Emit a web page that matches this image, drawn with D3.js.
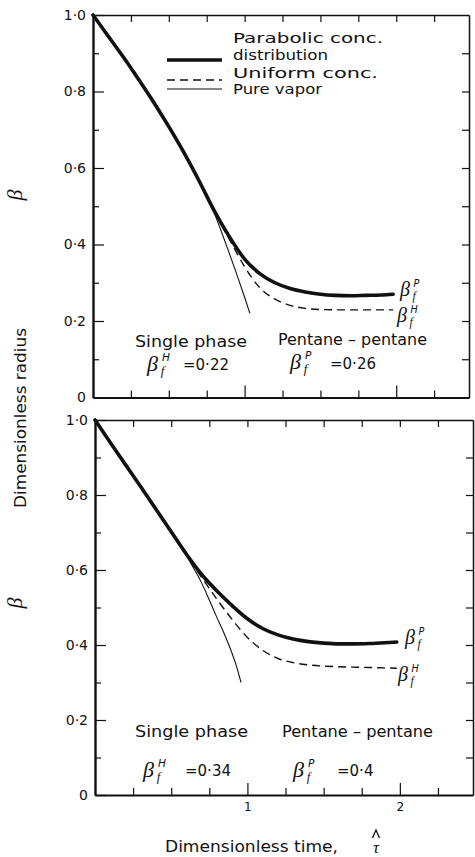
<!DOCTYPE html>
<html><head><meta charset="utf-8">
<script src="https://cdn.jsdelivr.net/npm/d3@7"></script>
<style>body{margin:0;background:#fff}svg{display:block}</style>
</head><body><svg id="c" width="475" height="857"></svg>
<script>
// ---------- data ----------
const yTickValues = [0, 0.2, 0.4, 0.6, 0.8, 1.0];
const yTickLabels = ["0", "0·2", "0·4", "0·6", "0·8", "1·0"];
const yMinorTicks = [0.1, 0.3, 0.5, 0.7, 0.9];
const yRightTicks = [0.1, 0.2, 0.3, 0.4, 0.5, 0.6, 0.7, 0.8, 0.9];
const xMajorTicks = [1, 2];
const xMajorLabels = ["1", "2"];
const xMinorTicks = [0.25, 0.5, 0.75, 1.25, 1.5, 1.75, 2.25];
const xTopTicks = [0.25, 0.5, 0.75, 1, 1.25, 1.5, 1.75, 2, 2.25];
const legendLabels = ["Parabolic conc.", "distribution", "Uniform conc.", "Pure vapor"];

// upper panel
const topParabolicTime = [0, 0.1, 0.2, 0.3, 0.4, 0.5, 0.6, 0.7, 0.8, 0.9, 1.0, 1.1, 1.2, 1.3, 1.4, 1.5, 1.6, 1.7, 1.8, 1.9, 1.98];
const topParabolicBeta = [1.0, 0.945, 0.89, 0.832, 0.772, 0.708, 0.64, 0.566, 0.488, 0.42, 0.362, 0.324, 0.3, 0.285, 0.276, 0.27, 0.267, 0.266, 0.267, 0.268, 0.27];
const topUniformTime = [0, 0.1, 0.2, 0.3, 0.4, 0.5, 0.6, 0.7, 0.8, 0.9, 1.0, 1.1, 1.2, 1.3, 1.4, 1.5, 1.7, 1.98];
const topUniformBeta = [1.0, 0.945, 0.89, 0.832, 0.772, 0.708, 0.64, 0.566, 0.486, 0.413, 0.342, 0.287, 0.257, 0.241, 0.233, 0.23, 0.229, 0.229];
const topVaporTime = [0, 0.1, 0.2, 0.3, 0.4, 0.5, 0.6, 0.7, 0.8, 0.85, 0.9, 0.95, 1.0, 1.035];
const topVaporBeta = [1.0, 0.945, 0.89, 0.832, 0.772, 0.708, 0.64, 0.566, 0.482, 0.43, 0.376, 0.32, 0.262, 0.22];

// lower panel
const botParabolicTime = [0, 0.1, 0.2, 0.3, 0.4, 0.5, 0.6, 0.7, 0.8, 0.9, 1.0, 1.1, 1.2, 1.3, 1.4, 1.5, 1.6, 1.7, 1.8, 1.9, 1.98];
const botParabolicBeta = [1.0, 0.94, 0.881, 0.822, 0.762, 0.702, 0.642, 0.588, 0.544, 0.505, 0.47, 0.444, 0.427, 0.416, 0.409, 0.405, 0.403, 0.403, 0.404, 0.406, 0.408];
const botUniformTime = [0, 0.1, 0.2, 0.3, 0.4, 0.5, 0.6, 0.7, 0.8, 0.9, 1.0, 1.1, 1.2, 1.3, 1.4, 1.6, 1.8, 1.98];
const botUniformBeta = [1.0, 0.94, 0.881, 0.822, 0.762, 0.702, 0.64, 0.58, 0.522, 0.468, 0.42, 0.386, 0.364, 0.353, 0.347, 0.342, 0.34, 0.338];
const botVaporTime = [0, 0.1, 0.2, 0.3, 0.4, 0.5, 0.6, 0.65, 0.7, 0.75, 0.8, 0.85, 0.9, 0.93, 0.958];
const botVaporBeta = [1.0, 0.94, 0.881, 0.822, 0.762, 0.702, 0.638, 0.603, 0.565, 0.52, 0.473, 0.428, 0.377, 0.341, 0.30];

const topFinalH = "0·22", topFinalP = "0·26";
const botFinalH = "0·34", botFinalP = "0·4";

// ---------- drawing ----------
const svg = d3.select("#c");
const FONT = "'DejaVu Sans', sans-serif";
const BFONT = "'Liberation Serif', serif";
const INK = "#111";

const panels = [
  {x0: 93, x1: 469, y0: 397.5, y1: 15, xLabels: false,
   par: [topParabolicTime, topParabolicBeta], uni: [topUniformTime, topUniformBeta], vap: [topVaporTime, topVaporBeta]},
  {x0: 95, x1: 473, y0: 795, y1: 420, xLabels: true,
   par: [botParabolicTime, botParabolicBeta], uni: [botUniformTime, botUniformBeta], vap: [botVaporTime, botVaporBeta]}
];

function styleAxis(sel, w) {
  sel.selectAll("path.domain").attr("stroke", INK).attr("stroke-width", w);
  sel.selectAll(".tick line").attr("stroke", INK).attr("stroke-width", 1.2);
  sel.selectAll("text").attr("font-family", FONT).attr("fill", INK);
}

function betaLabel(g, x, y, sup, size) {
  g.append("text").attr("x", x).attr("y", y).attr("font-family", BFONT).attr("font-style", "italic")
    .attr("font-size", size).attr("fill", INK).text("β");
  g.append("text").attr("x", x + size * 0.62).attr("y", y + size * 0.2).attr("font-family", BFONT).attr("font-style", "italic")
    .attr("font-size", size * 0.58).attr("fill", INK).text("f");
  g.append("text").attr("x", x + size * 0.68).attr("y", y - size * 0.45).attr("font-family", FONT).attr("font-style", "italic")
    .attr("font-size", size * 0.48).attr("fill", INK).text(sup);
}

function txt(g, x, y, s, size, len, adj) {
  const t = g.append("text").attr("x", x).attr("y", y).attr("font-family", FONT)
    .attr("font-size", size).attr("fill", INK).text(s);
  if (len) t.attr("textLength", len).attr("lengthAdjust", adj || "spacingAndGlyphs");
  return t;
}

panels.forEach((p, pi) => {
  const g = svg.append("g");
  const x = d3.scaleLinear().domain([0, 2.48]).range([p.x0, p.x1]);
  const y = d3.scaleLinear().domain([0, 1]).range([p.y0, p.y1]);

  // left axis
  g.append("g").attr("transform", `translate(${p.x0},0)`)
    .call(d3.axisLeft(y).tickValues(yTickValues).tickFormat((d, i) => yTickLabels[i])
      .tickSize(-11).tickSizeOuter(0).tickPadding(7))
    .call(s => styleAxis(s, 2.4)).call(s => s.selectAll("text").attr("font-size", 14));
  g.append("g").attr("transform", `translate(${p.x0},0)`)
    .call(d3.axisLeft(y).tickValues(yMinorTicks).tickFormat("").tickSize(-6).tickSizeOuter(0))
    .call(s => styleAxis(s, 0));
  // right axis
  g.append("g").attr("transform", `translate(${p.x1},0)`)
    .call(d3.axisRight(y).tickValues(yRightTicks).tickFormat("").tickSize(-7).tickSizeOuter(0))
    .call(s => styleAxis(s, 1.5));
  // top axis
  g.append("g").attr("transform", `translate(0,${p.y1})`)
    .call(d3.axisTop(x).tickValues(xTopTicks).tickFormat("").tickSize(-7).tickSizeOuter(0))
    .call(s => styleAxis(s, 1.5));
  // bottom axis
  g.append("g").attr("transform", `translate(0,${p.y0})`)
    .call(d3.axisBottom(x).tickValues(xMajorTicks).tickFormat((d, i) => p.xLabels ? xMajorLabels[i] : "")
      .tickSize(-12).tickSizeOuter(0).tickPadding(7))
    .call(s => styleAxis(s, 2)).call(s => s.selectAll("text").attr("font-size", 12));
  g.append("g").attr("transform", `translate(0,${p.y0})`)
    .call(d3.axisBottom(x).tickValues(xMinorTicks).tickFormat("").tickSize(-7).tickSizeOuter(0))
    .call(s => styleAxis(s, 0));

  const line = d3.line().x(d => x(d[0])).y(d => y(d[1])).curve(d3.curveMonotoneX);
  g.append("path").datum(d3.zip(...p.vap)).attr("d", line).attr("fill", "none")
    .attr("stroke", INK).attr("stroke-width", 1.1);
  g.append("path").datum(d3.zip(...p.uni)).attr("d", line).attr("fill", "none")
    .attr("stroke", INK).attr("stroke-width", 1.4).attr("stroke-dasharray", "8,5");
  g.append("path").datum(d3.zip(...p.par)).attr("d", line).attr("fill", "none")
    .attr("stroke", INK).attr("stroke-width", 3.6).attr("stroke-linecap", "round");

  // axis beta symbol (rotated)
  const by = pi === 0 ? 195 : 603;
  g.append("text").attr("transform", `translate(22,${by}) rotate(-90)`).attr("text-anchor", "middle")
    .attr("font-family", BFONT).attr("font-style", "italic").attr("font-size", 22).attr("fill", INK).text("β");
});

const ann = svg.append("g");
// legend (upper panel)
const lx0 = 167, lx1 = 222;
ann.append("line").attr("x1", lx0).attr("x2", lx1).attr("y1", 60).attr("y2", 60).attr("stroke", INK).attr("stroke-width", 3.6);
ann.append("line").attr("x1", lx0).attr("x2", lx1).attr("y1", 80).attr("y2", 80).attr("stroke", INK).attr("stroke-width", 1.4).attr("stroke-dasharray", "8,5");
ann.append("line").attr("x1", lx0).attr("x2", lx1).attr("y1", 89).attr("y2", 89).attr("stroke", INK).attr("stroke-width", 1.1);
txt(ann, 233, 43, legendLabels[0], 14, 150);
txt(ann, 233, 59.5, legendLabels[1], 14, 95);
txt(ann, 233, 77.5, legendLabels[2], 14, 145);
txt(ann, 233, 94, legendLabels[3], 14, 89);

// upper panel annotations
txt(ann, 135, 347, "Single phase", 16, 112);
txt(ann, 278, 345, "Pentane – pentane", 16, 149);
betaLabel(ann, 147, 371, "H", 22);
txt(ann, 183, 370, "=" + topFinalH, 15);
betaLabel(ann, 290, 369, "P", 22);
txt(ann, 330, 369, "=" + topFinalP, 15);
betaLabel(ann, 400, 296, "P", 20);
betaLabel(ann, 397, 322, "H", 20);

// lower panel annotations
txt(ann, 135, 737, "Single phase", 16, 113);
txt(ann, 282, 737, "Pentane – pentane", 16, 151);
betaLabel(ann, 143, 777, "H", 22);
txt(ann, 185, 776, "=" + botFinalH, 15);
betaLabel(ann, 293, 777, "P", 22);
txt(ann, 337, 776, "=" + botFinalP, 15);
betaLabel(ann, 405, 644, "P", 20);
betaLabel(ann, 398, 681, "H", 20);

// axis titles
ann.append("text").attr("transform", "translate(26,418) rotate(-90)").attr("text-anchor", "middle")
  .attr("font-family", FONT).attr("font-size", 16).attr("fill", INK)
  .attr("textLength", 180).attr("lengthAdjust", "spacingAndGlyphs").text("Dimensionless radius");
txt(ann, 165, 852, "Dimensionless time,", 16, 173);
ann.append("text").attr("x", 376).attr("y", 853).attr("text-anchor", "middle").attr("font-family", BFONT)
  .attr("font-style", "italic").attr("font-size", 17).attr("fill", INK).text("τ");
// circumflex accent over tau
ann.append("path").attr("d", d3.line()([[372.5, 838], [376, 830], [379.5, 838]]))
  .attr("fill", "none").attr("stroke", INK).attr("stroke-width", 1.3);
</script></body></html>
